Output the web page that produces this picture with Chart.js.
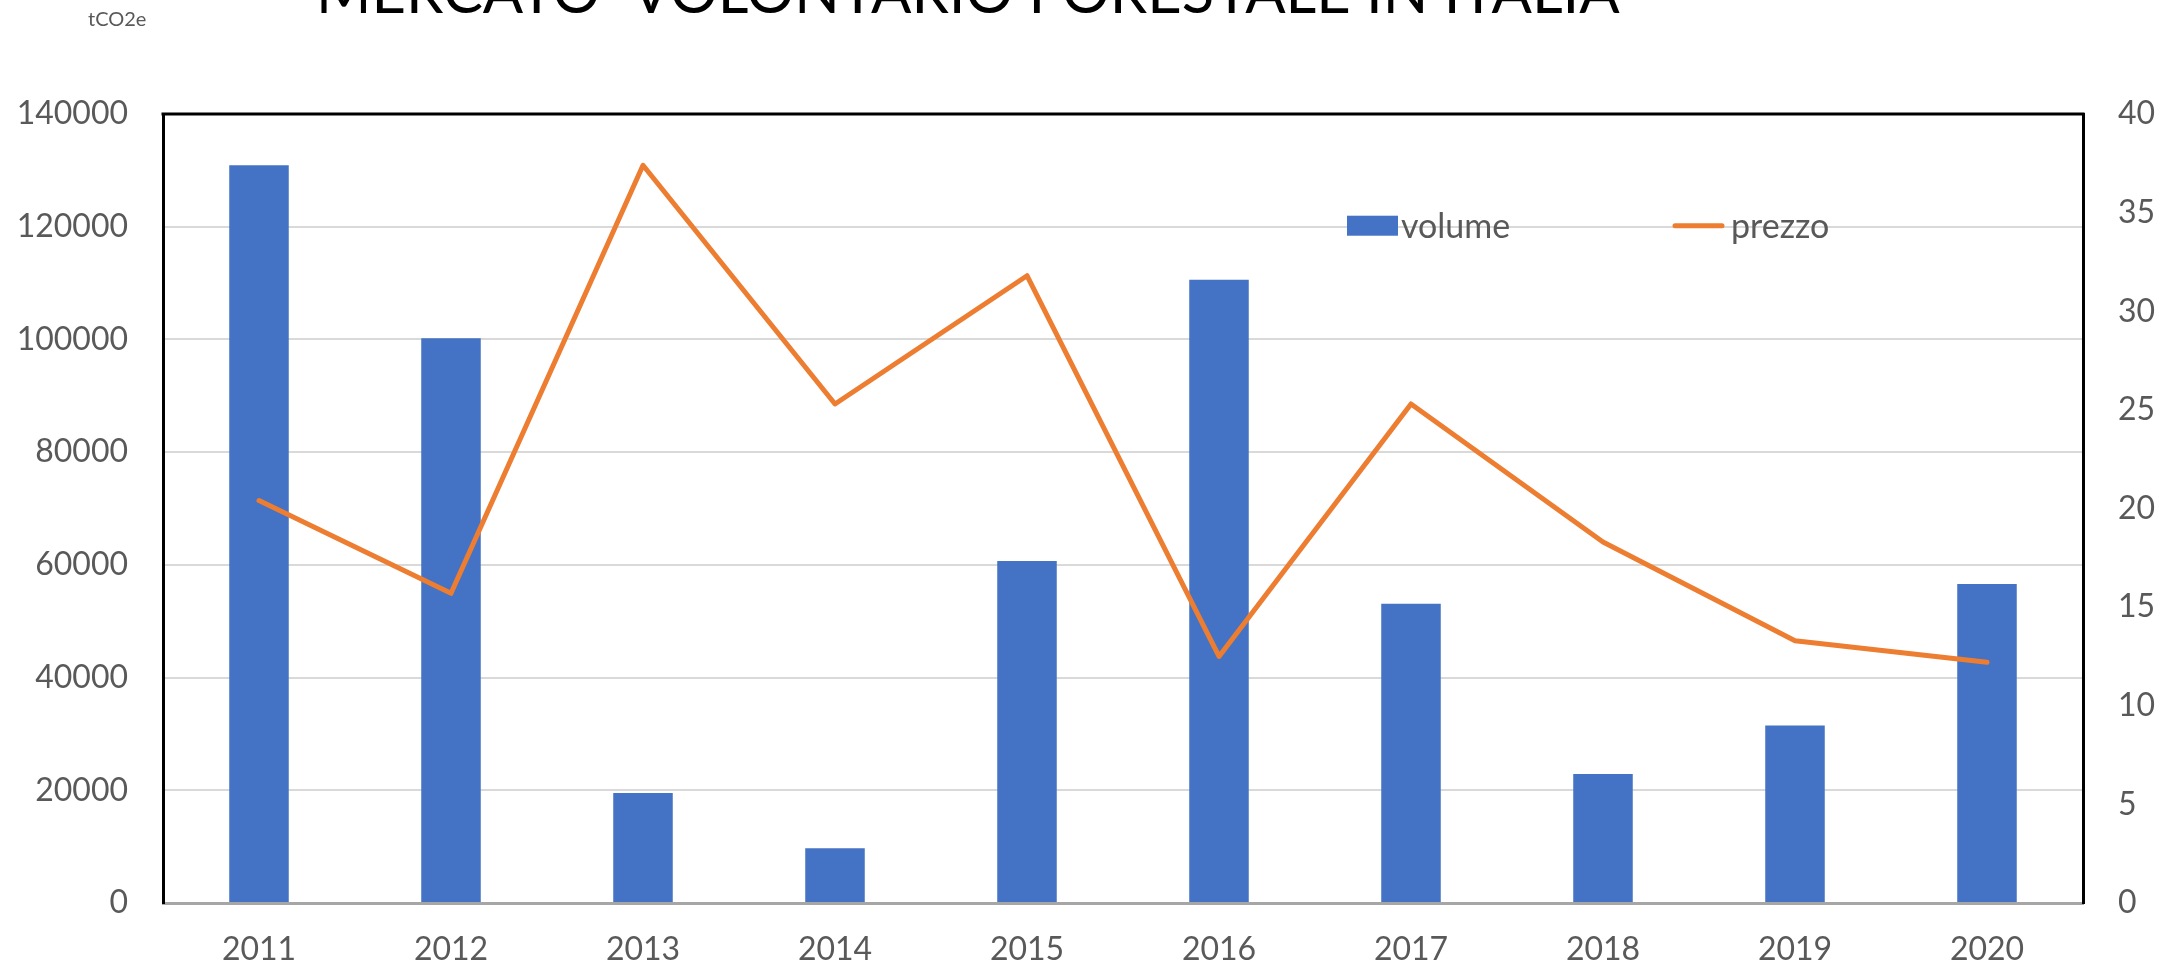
<!DOCTYPE html>
<html>
<head>
<meta charset="utf-8">
<script src="https://cdn.jsdelivr.net/npm/chart.js@4.4.1/dist/chart.umd.min.js"></script>
<style>
html,body{margin:0;padding:0;background:#fff;overflow:hidden}
canvas{display:block}
</style>
</head>
<body>
<canvas id="c" width="2171" height="966"></canvas>
<script>
const years = ['2011','2012','2013','2014','2015','2016','2017','2018','2019','2020'];
const volume = [130900, 100200, 19500, 9700, 60700, 110600, 53100, 22900, 31500, 56600];
const prezzo = [20.4, 15.7, 37.4, 25.3, 31.8, 12.5, 25.3, 18.3, 13.3, 12.2];
const seriesNames = ['volume', 'prezzo'];
const volumeAxis = {min: 0, max: 140000, step: 20000};
const prezzoAxis = {min: 0, max: 40, step: 5};
const titleText = 'MERCATO  VOLONTARIO FORESTALE IN ITALIA';
const unitText = 'tCO2e';

const BLUE = '#4472C4';
const ORANGE = '#ED7D31';
const TXT = '#595959';
const FONT = 'Lato, Carlito, "Liberation Sans", sans-serif';

const decorPlugin = {
  id: 'decor',
  afterDraw(chart) {
    const ctx = chart.ctx;
    const ca = chart.chartArea;
    ctx.save();
    // top border of plot area
    ctx.strokeStyle = '#000';
    ctx.lineWidth = 3;
    ctx.beginPath();
    ctx.moveTo(ca.left - 1.5, ca.top);
    ctx.lineTo(ca.right + 1.5, ca.top);
    ctx.stroke();

    // title (partially cut at top)
    let size = 60;
    ctx.font = '400 ' + size + 'px ' + FONT;
    const w = ctx.measureText(titleText).width;
    size = size * 1304 / w;
    ctx.font = '400 ' + size + 'px ' + FONT;
    ctx.fillStyle = '#000';
    ctx.textBaseline = 'alphabetic';
    ctx.textAlign = 'left';
    ctx.fillText(titleText, 316, 13);

    // unit label
    ctx.font = '20px ' + FONT;
    ctx.fillStyle = TXT;
    ctx.textBaseline = 'middle';
    ctx.fillText(unitText, 88, 20);

    // legend
    const ly = chart.scales.y.getPixelForValue(120000);
    ctx.font = '34px ' + FONT;
    ctx.fillStyle = BLUE;
    ctx.fillRect(1347, ly - 11, 51, 20);
    ctx.fillStyle = TXT;
    ctx.textBaseline = 'middle';
    ctx.fillText(seriesNames[0], 1401, ly);
    ctx.strokeStyle = ORANGE;
    ctx.lineWidth = 5;
    ctx.lineCap = 'round';
    ctx.beginPath();
    ctx.moveTo(1675, ly - 1);
    ctx.lineTo(1722, ly - 1);
    ctx.stroke();
    ctx.fillText(seriesNames[1], 1731, ly);
    ctx.restore();
  }
};

new Chart(document.getElementById('c'), {
  data: {
    labels: years,
    datasets: [
      {
        type: 'line',
        label: seriesNames[1],
        data: prezzo,
        yAxisID: 'y2',
        borderColor: ORANGE,
        backgroundColor: ORANGE,
        borderWidth: 5,
        pointRadius: 0,
        tension: 0,
        borderCapStyle: 'round',
        borderJoinStyle: 'round',
        order: 0
      },
      {
        type: 'bar',
        label: seriesNames[0],
        data: volume,
        yAxisID: 'y',
        backgroundColor: BLUE,
        borderWidth: 0,
        barPercentage: 0.31,
        categoryPercentage: 1,
        order: 1
      }
    ]
  },
  options: {
    responsive: false,
    animation: false,
    devicePixelRatio: 1,
    layout: {padding: {top: 114, left: 0, right: 0, bottom: 0}},
    plugins: {
      legend: {display: false},
      title: {display: false},
      tooltip: {enabled: false}
    },
    scales: {
      x: {
        grid: {display: false, drawTicks: false},
        border: {display: true, color: '#A6A6A6', width: 3},
        ticks: {color: TXT, font: {family: FONT, size: 32, lineHeight: 1}, padding: 31, maxRotation: 0, autoSkip: false},
        afterFit(s) { s.height = 63; }
      },
      y: {
        position: 'left',
        min: volumeAxis.min, max: volumeAxis.max,
        grid: {color: '#D9D9D9', lineWidth: 2, drawTicks: false},
        border: {display: true, color: '#000', width: 3},
        ticks: {stepSize: volumeAxis.step, color: TXT, font: {family: FONT, size: 32}, padding: 35, callback: v => String(v)},
        afterFit(s) { s.width = 163; }
      },
      y2: {
        position: 'right',
        min: prezzoAxis.min, max: prezzoAxis.max,
        grid: {display: false, drawTicks: false},
        border: {display: true, color: '#000', width: 3},
        ticks: {stepSize: prezzoAxis.step, color: TXT, font: {family: FONT, size: 32}, padding: 35, callback: v => String(v)},
        afterFit(s) { s.width = 88; }
      }
    }
  },
  plugins: [decorPlugin]
});
</script>
</body>
</html>
